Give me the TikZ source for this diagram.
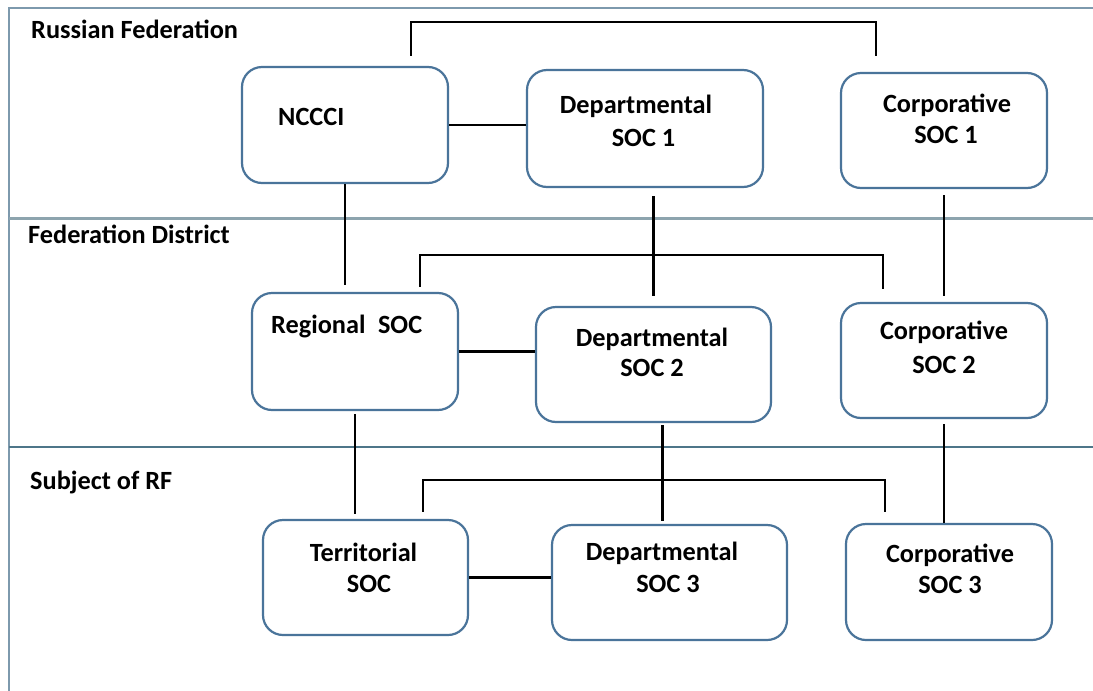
\documentclass[tikz,border=0pt]{standalone}
\usepackage{fontspec}
\setmainfont{Carlito}
\usetikzlibrary{calc}
\definecolor{boxblue}{HTML}{4A749A}
\definecolor{framegray}{HTML}{7D99AD}
\definecolor{bandgray}{HTML}{8DA4AE}
\definecolor{banddark}{HTML}{4E7689}
\begin{document}
\begin{tikzpicture}[x=1pt,y=-1pt,
  socbox/.style={draw=boxblue,line width=2.2pt,rounded corners=20pt,fill=white,inner sep=0pt},
  wire/.style={draw=black,line width=2.3pt},
  txt/.style={font=\bfseries\fontsize{26.3}{31}\selectfont,anchor=base,inner sep=0pt},
  lvl/.style={txt,anchor=base west}]
\useasboundingbox (0,0) rectangle (1093,691);
\fill[white] (0,0) rectangle (1093,691);

% level frame and separators
\draw[framegray,line width=1.3pt] (9,691) -- (9,8) -- (1093,8);
\draw[bandgray,line width=3pt] (9,218) -- (1093,218);
\draw[banddark,line width=1.5pt] (9,447) -- (1093,447);

% level captions
\node[lvl] (lRF) at (31,38) {Russian Federation};
\node[lvl] (lFD) at (28,243) {Federation District};
\node[lvl] (lSub) at (30,489) {Subject of RF};

% boxes
\node[socbox,minimum width=206pt,minimum height=116pt] (ncc)   at (345,125)   {};
\node[socbox,minimum width=236pt,minimum height=117pt] (dep1)  at (645,128.5) {};
\node[socbox,minimum width=206pt,minimum height=115pt] (corp1) at (944,130.5) {};
\node[socbox,minimum width=206pt,minimum height=117pt] (reg)   at (355,351.5) {};
\node[socbox,minimum width=235pt,minimum height=115pt] (dep2)  at (653.5,364.5) {};
\node[socbox,minimum width=206pt,minimum height=115pt] (corp2) at (944,360.5) {};
\node[socbox,minimum width=205pt,minimum height=115pt] (terr)  at (365.5,577.5) {};
\node[socbox,minimum width=235pt,minimum height=115pt] (dep3)  at (669.5,582.5) {};
\node[socbox,minimum width=206pt,minimum height=116pt] (corp3) at (949,582) {};

% box texts
\node[lvl] (nccT) at (278,125) {NCCCI};
\node[txt] (dep1a) at (636,113) {Departmental};
\node[txt] (dep1b) at (643.5,146) {SOC 1};
\node[txt] (corp1a) at (947,112) {Corporative};
\node[txt] (corp1b) at (946,143) {SOC 1};
\node[lvl] (regT) at (271,333) {Regional\hspace{0.25em} SOC};
\node[txt] (dep2a) at (652,346) {Departmental};
\node[txt] (dep2b) at (652,376) {SOC 2};
\node[txt] (corp2a) at (944,339) {Corporative};
\node[txt] (corp2b) at (944,373) {SOC 2};
\node[txt] (terra) at (363.5,561) {Territorial};
\node[txt] (terrb) at (369,592) {SOC};
\node[txt] (dep3a) at (662,560) {Departmental};
\node[txt] (dep3b) at (668,592) {SOC 3};
\node[txt] (corp3a) at (950,562) {Corporative};
\node[txt] (corp3b) at (950,593) {SOC 3};

% top level links
\draw[wire] ($(ncc.north)+(66,-10)$) -- ++(0,-34) -| ($(corp1.north)+(-68,-16)$);
\draw[wire] (ncc.east) -- (ncc.east -| dep1.west);
\draw[wire,shorten >=7pt] (ncc.south) -- (ncc.south |- reg.north);
\draw[wire,shorten <=8pt,shorten >=10pt] (dep2.north |- dep1.south) -- (dep2.north);
\draw[wire,shorten <=6pt,shorten >=6pt] (corp1.south) -- (corp2.north);

% district level links
\draw[wire] ($(reg.north)+(65,-5)$) -- ++(0,-32) -| ($(corp2.north)+(-61,-13)$);
\draw[wire] (reg.east) -- (reg.east -| dep2.west);
\draw[wire,shorten <=3pt,shorten >=5pt] (reg.south) -- (reg.south |- terr.north);
\coordinate (d2d) at ($(dep2.south)+(9,0)$);
\draw[wire,shorten <=2pt,shorten >=3pt] (d2d) -- (d2d |- dep3.north);
\draw[wire,shorten <=5pt] (corp2.south) -- (corp2.south |- corp3.north);

% subject level links
\draw[wire] ($(terr.north)+(57.5,-7)$) -- ++(0,-32) -| ($(corp3.north)+(-64,-11)$);
\draw[wire] (terr.east) -- (terr.east -| dep3.west);
\end{tikzpicture}
\end{document}
